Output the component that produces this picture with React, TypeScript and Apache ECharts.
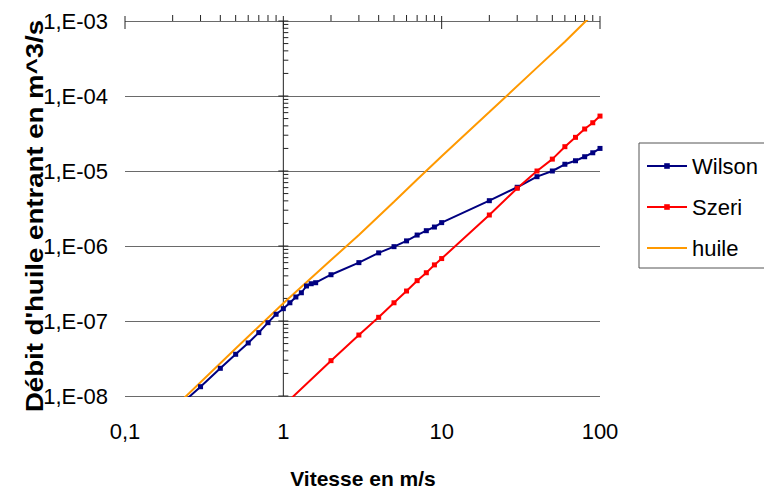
import React, { useEffect, useRef } from "react";
import * as echarts from "echarts";

const FONT = "'Liberation Sans', Arial, sans-serif";

const X_MIN = 0.1;
const X_MAX = 100;
const Y_MIN = 1e-8;
const Y_MAX = 1e-3;

const wilsonX = [0.2, 0.3, 0.4, 0.5, 0.6, 0.7, 0.8, 0.9, 1, 1.1, 1.2, 1.3, 1.4, 1.5, 1.6, 2, 3, 4, 5, 6, 7, 8, 9, 10, 20, 30, 40, 50, 60, 70, 80, 90, 100];
const wilsonY = [6.2e-9, 1.33e-8, 2.34e-8, 3.6e-8, 5.1e-8, 7.0e-8, 9.5e-8, 1.23e-7, 1.46e-7, 1.75e-7, 2.09e-7, 2.38e-7, 2.93e-7, 3.14e-7, 3.24e-7, 4.14e-7, 6.0e-7, 8.1e-7, 9.8e-7, 1.17e-6, 1.4e-6, 1.6e-6, 1.79e-6, 2.05e-6, 4.02e-6, 6.07e-6, 8.4e-6, 1.0e-5, 1.23e-5, 1.37e-5, 1.55e-5, 1.75e-5, 2.0e-5];

const szeriX = [1, 2, 3, 4, 5, 6, 7, 8, 9, 10, 20, 30, 40, 50, 60, 70, 80, 90, 100];
const szeriY = [7.4e-9, 2.96e-8, 6.5e-8, 1.12e-7, 1.75e-7, 2.51e-7, 3.45e-7, 4.4e-7, 5.6e-7, 6.8e-7, 2.59e-6, 5.88e-6, 1.0e-5, 1.44e-5, 2.11e-5, 2.81e-5, 3.63e-5, 4.4e-5, 5.4e-5];

const huileX = [0.2, 0.5, 1, 2, 3, 5, 7, 10, 20, 40, 60, 80, 100];
const huileY = [6.7e-9, 4.3e-8, 1.72e-7, 6.5e-7, 1.4e-6, 3.9e-6, 7.7e-6, 1.57e-5, 6.1e-5, 2.39e-4, 5.3e-4, 9.6e-4, 1.5e-3];

// axis tick values (decades and their 2..9 sub-divisions)
const xMajorTicks = [0.1, 1, 10, 100];
const yMajorTicks = [1e-8, 1e-7, 1e-6, 1e-5, 1e-4, 1e-3];
const subSteps = [2, 3, 4, 5, 6, 7, 8, 9];
const xMinorTicks = xMajorTicks.slice(0, -1).flatMap((d) => subSteps.map((s) => d * s));
const yMinorTicks = yMajorTicks.slice(0, -1).flatMap((d) => subSteps.map((s) => d * s));

const pair = (xs: number[], ys: number[]) => xs.map((x, i) => [x, ys[i]]);

export default function App() {
  const ref = useRef<HTMLDivElement>(null);
  useEffect(() => {
    if (!ref.current) return;
    const chart = echarts.init(ref.current, undefined, { renderer: "svg" });

    const tickData = [
      [1, Y_MIN, 4],
      ...xMinorTicks.map((v) => [v, Y_MAX, 0]),
      ...xMajorTicks.map((v) => [v, Y_MAX, 1]),
      ...yMinorTicks.map((v) => [1, v, 2]),
      ...yMajorTicks.map((v) => [1, v, 3]),
    ];

    const lineSeries = (name: string, data: number[][], color: string, marker: boolean) => ({
      name,
      type: "line",
      data,
      clip: true,
      symbol: marker ? "rect" : "none",
      symbolSize: 5,
      showSymbol: marker,
      lineStyle: { color, width: 2 },
      itemStyle: { color },
      z: 3,
    });

    chart.setOption({
      animation: false,
      backgroundColor: "#ffffff",
      textStyle: { fontFamily: FONT },
      grid: { left: 125, right: 164, top: 21, bottom: 97, containLabel: false },
      xAxis: {
        type: "log",
        logBase: 10,
        min: X_MIN,
        max: X_MAX,
        position: "bottom",
        axisLine: { show: false },
        axisTick: { show: false },
        splitLine: { show: false },
        axisLabel: {
          show: true,
          margin: 24,
          fontSize: 22,
          color: "#000",
          fontFamily: FONT,
          showMinLabel: true,
          showMaxLabel: true,
          formatter: (v: number) => String(Number(v.toPrecision(6))).replace(".", ","),
        },
      },
      yAxis: {
        type: "log",
        logBase: 10,
        min: Y_MIN,
        max: Y_MAX,
        position: "left",
        axisLine: { show: false },
        axisTick: { show: false },
        splitLine: { show: true, lineStyle: { color: "#6a6a6a", width: 1 } },
        axisLabel: {
          show: true,
          margin: 17,
          fontSize: 22,
          color: "#000",
          fontFamily: FONT,
          showMinLabel: true,
          showMaxLabel: true,
          formatter: (v: number) => {
            const e = Math.round(Math.log10(v));
            const a = Math.abs(e);
            return "1,E" + (e < 0 ? "-" : "+") + (a < 10 ? "0" + a : String(a));
          },
        },
      },
      legend: {
        data: ["Wilson", "Szeri", { name: "huile", itemStyle: { opacity: 0 } }],
        orient: "vertical",
        left: 639,
        top: 143,
        padding: [12, 40, 9, 7],
        itemWidth: 40,
        itemHeight: 7,
        itemGap: 19,
        borderColor: "#555",
        borderWidth: 1,
        backgroundColor: "#fff",
        textStyle: { fontSize: 22, color: "#000", fontFamily: FONT },
      },
      graphic: [
        {
          type: "text",
          x: 363,
          y: 478,
          style: {
            text: "Vitesse en m/s",
            font: `bold 21px ${FONT}`,
            fill: "#000",
            textAlign: "center",
            textVerticalAlign: "middle",
          },
        },
        {
          type: "text",
          x: 35,
          y: 216,
          rotation: Math.PI / 2,
          scaleX: 1.15,
          style: {
            text: "Débit d'huile entrant en m^3/s",
            font: `bold 24px ${FONT}`,
            fill: "#000",
            textAlign: "center",
            textVerticalAlign: "middle",
          },
        },
      ],
      series: [
        {
          name: "axes",
          type: "custom",
          data: tickData,
          silent: true,
          z: 2,
          renderItem: (_params: any, api: any) => {
            const x = api.value(0);
            const y = api.value(1);
            const k = api.value(2);
            const p = api.coord([x, y]);
            let shape;
            if (k === 4) {
              const q = api.coord([x, Y_MAX]);
              shape = { x1: p[0], y1: p[1], x2: q[0], y2: q[1] };
            } else if (k === 0) {
              shape = { x1: p[0], y1: p[1] - 6, x2: p[0], y2: p[1] };
            } else if (k === 1) {
              shape = { x1: p[0], y1: p[1] - 5, x2: p[0], y2: p[1] + 8 };
            } else if (k === 2) {
              shape = { x1: p[0], y1: p[1], x2: p[0] + 5, y2: p[1] };
            } else {
              shape = { x1: p[0] - 5, y1: p[1], x2: p[0] + 5, y2: p[1] };
            }
            return { type: "line", shape, style: { stroke: "#222", lineWidth: 1 } };
          },
        },
        lineSeries("Wilson", pair(wilsonX, wilsonY), "#000080", true),
        lineSeries("Szeri", pair(szeriX, szeriY), "#ff0000", true),
        lineSeries("huile", pair(huileX, huileY), "#ff9900", false),
      ],
    });
    return () => chart.dispose();
  }, []);
  return (
    <div
      ref={ref}
      style={{ position: "fixed", left: 0, top: 0, width: 764, height: 493, background: "#fff" }}
    />
  );
}
